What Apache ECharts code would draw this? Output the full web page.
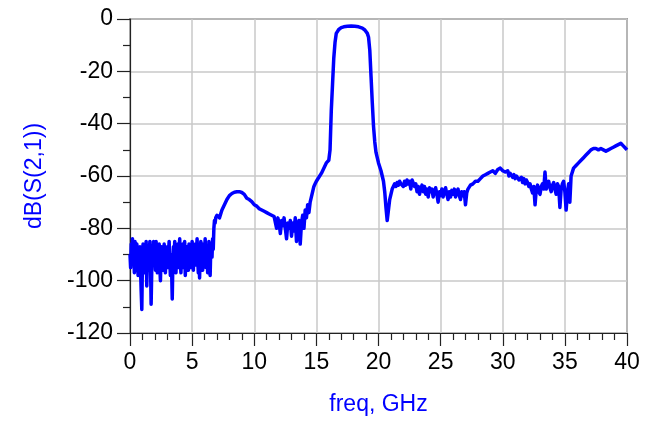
<!DOCTYPE html>
<html>
<head>
<meta charset="utf-8">
<script src="https://cdn.jsdelivr.net/npm/echarts@6/dist/echarts.min.js"></script>
<style>
html,body{margin:0;padding:0;background:#fff;}
#c{width:667px;height:427px;}
</style>
</head>
<body>
<div id="c"></div>
<script>
// Tick labels
const xTicks = [0, 5, 10, 15, 20, 25, 30, 35, 40];
const yTicks = [-120, -100, -80, -60, -40, -20, 0];

// freq (GHz)
const freqGHz = [
0.00,0.05,0.10,0.15,0.20,0.25,0.30,0.35,0.40,0.45,0.50,0.55,0.60,0.65,0.70,0.75,0.80,0.85,0.90,0.95,
1.00,1.05,1.10,1.15,1.20,1.25,1.30,1.35,1.40,1.45,1.50,1.55,1.60,1.65,1.70,1.75,1.80,1.85,1.90,1.95,
2.00,2.05,2.10,2.15,2.20,2.25,2.30,2.35,2.40,2.45,2.50,2.55,2.60,2.65,2.70,2.75,2.80,2.85,2.90,2.95,
3.00,3.05,3.10,3.15,3.20,3.25,3.30,3.35,3.40,3.45,3.50,3.55,3.60,3.65,3.70,3.75,3.80,3.85,3.90,3.95,
4.00,4.05,4.10,4.15,4.20,4.25,4.30,4.35,4.40,4.45,4.50,4.55,4.60,4.65,4.70,4.75,4.80,4.85,4.90,4.95,
5.00,5.05,5.10,5.15,5.20,5.25,5.30,5.35,5.40,5.45,5.50,5.55,5.60,5.65,5.70,5.75,5.80,5.85,5.90,5.95,
6.00,6.05,6.10,6.15,6.20,6.25,6.30,6.35,6.40,6.45,6.50,6.55,6.60,6.65,6.70,6.75,6.80,6.85,6.90,6.95,7.00,
7.2,7.4,7.6,7.8,8.0,8.2,8.4,8.6,8.8,9.0,9.2,9.4,9.6,9.8,
10.0,10.2,10.4,10.6,10.8,11.0,11.2,11.4,11.6,
11.8,11.9,12.0,12.1,12.2,12.3,12.4,12.5,12.6,12.7,12.8,12.9,
13.0,13.1,13.2,13.3,13.4,13.5,13.6,13.7,13.8,13.9,
14.0,14.1,14.2,14.3,14.4,14.5,14.6,14.7,14.8,14.9,
15.0,15.2,15.4,15.6,15.8,16.0,16.1,16.2,16.3,16.4,16.5,16.6,16.8,
17.0,17.2,17.5,17.8,18.1,18.4,18.7,18.9,19.1,19.2,19.3,19.4,19.5,19.6,19.7,19.8,
20.0,20.2,20.4,20.5,20.6,20.7,20.8,20.9,
21.0,21.1,21.2,21.3,21.4,21.5,21.6,21.7,21.8,21.9,
22.0,22.1,22.2,22.3,22.4,22.5,22.6,22.7,22.8,22.9,
23.0,23.1,23.2,23.3,23.4,23.5,23.6,23.7,23.8,23.9,
24.0,24.1,24.2,24.3,24.4,24.5,24.6,24.7,24.8,24.9,
25.0,25.1,25.2,25.3,25.4,25.5,25.6,25.7,25.8,25.9,
26.0,26.1,26.2,26.3,26.4,26.5,26.6,26.7,26.8,26.9,
27.0,27.1,27.2,27.3,27.4,
27.6,27.8,28.0,28.2,28.4,28.6,28.8,29.0,29.2,29.4,29.6,29.8,
30.0,30.1,30.2,30.3,30.4,30.5,30.6,30.7,30.8,30.9,
31.0,31.1,31.2,31.3,31.4,31.5,31.6,31.7,31.8,31.9,
32.0,32.1,32.2,32.3,32.4,32.5,32.6,32.7,32.8,32.9,
33.0,33.1,33.2,33.3,33.4,33.5,33.6,33.7,33.8,33.9,
34.0,34.1,34.2,34.3,34.4,34.5,34.6,34.7,34.8,34.9,
35.0,35.1,35.2,35.3,35.4,35.5,
35.7,35.9,36.1,36.3,36.5,36.7,36.9,37.1,37.3,37.5,37.7,37.9,
38.1,38.3,38.5,38.7,38.9,39.1,39.3,39.5,39.7,39.9,40.0
];

// dB(S(2,1))
const s21dB = [
-90,-95,-86,-93,-84,-90,-87,-97,-85,-92,-96,-86,-90,-98,-88,-94,-87,-96,-104,-111,
-93,-86,-91,-97,-88,-94,-85,-102,-91,-87,-96,-89,-85,-93,-109,-96,-88,-92,-85,-94,
-89,-96,-85,-91,-97,-88,-93,-86,-95,-100,-90,-87,-94,-89,-96,-86,-92,-97,-88,-93,
-87,-95,-89,-85,-92,-98,-90,-96,-107,-93,-87,-91,-85,-94,-97,-88,-92,-86,-95,-89,
-84,-93,-97,-88,-91,-86,-95,-89,-85,-98,-92,-87,-94,-88,-96,-86,-91,-95,-87,-93,
-85,-90,-96,-88,-93,-86,-94,-89,-84,-92,-97,-88,-99,-90,-85,-93,-88,-96,-86,-92,
-89,-84,-95,-90,-87,-97,-92,-85,-94,-98,-88,-86,-91,-84,-88,-80,-77,-78,-76,-76,-75,
-76,-73,-71,-69,-67.5,-66.7,-66.2,-66,-66,-66.3,-67,-68.5,-69,-69.8,
-71,-71.5,-72.5,-73,-73.5,-74,-74.5,-75,-75.5,
-80,-76,-78,-82,-77,-79,-76,-80,-84,-78,-80,-77,
-83,-78,-81,-76,-85,-79,-77,-86,-78,-75,
-80,-73,-76,-71,-74,-70,-68,-66,-64,-63,
-62,-60.5,-59,-57,-55,-54,-50,-35,-25,-15,-9,-5.5,-4,
-3.3,-3,-2.8,-2.7,-2.8,-3,-3.5,-4.2,-5.5,-7,-12,-22,-32,-41,-47,-51,
-55,-58,-62,-66,-72,-77,-73,-69,
-67,-65,-64.5,-63,-64,-62.5,-63.5,-62,-63,-62.5,
-64,-62,-63.5,-61.5,-63,-62,-65,-61.5,-62,-64,
-63,-66,-64,-67,-65,-63.5,-66,-64,-67,-65,
-68,-64.5,-66,-65,-68,-66,-64.5,-67,-70,-66,
-67.5,-65,-68,-66,-64.5,-67,-69,-66,-68,-65.5,
-67,-65,-68,-66,-65,-67.5,-69,-66,-67.5,-66,
-71,-66.5,-65,-64.5,-63.5,
-63,-62,-62,-61,-60,-59.5,-59,-58.5,-58,-59,-57.5,-57,
-58,-57.5,-58.5,-59,-58,-60,-59,-58.5,-60.5,-59.5,
-61,-60,-59.5,-61.5,-62,-60.5,-62.5,-61,-63,-61.5,
-62.5,-64,-63,-65,-66.5,-64,-71,-65,-63.5,-66,
-67,-64,-63,-65,-58.5,-65,-63,-62,-64.5,-66,
-63.5,-62.5,-65,-67,-63,-64,-72,-65,-63,-62,
-66,-73,-67,-63,-70,-60,
-57,-56,-55,-54,-53,-52,-51,-50,-49.5,-49.5,-50,-49.5,
-50,-50.5,-50,-49.5,-49,-48.5,-48,-47.5,-48.5,-49.5,-50
];

const chart = echarts.init(document.getElementById('c'), null, {renderer: 'canvas'});
const font = 'Liberation Sans, Arial, sans-serif';
chart.setOption({
  animation: false,
  backgroundColor: '#ffffff',
  grid: {left: 130, right: 40, top: 19, bottom: 94, show: true, borderColor: '#555555', borderWidth: 1.5, backgroundColor: 'transparent'},
  xAxis: {
    type: 'value', min: xTicks[0], max: xTicks[xTicks.length - 1], interval: 5,
    name: 'freq, GHz', nameLocation: 'middle', nameGap: 60,
    nameTextStyle: {color: '#0000ff', fontSize: 23, fontFamily: font},
    axisLine: {show: true, onZero: false, lineStyle: {color: '#222', width: 1.2}},
    axisTick: {show: true, inside: false, length: 13, lineStyle: {color: '#222', width: 1.2}},
    minorTick: {show: true, splitNumber: 5, length: 7, lineStyle: {color: '#222', width: 1.2}},
    axisLabel: {color: '#000', fontSize: 23, fontFamily: font, margin: 18},
    splitLine: {show: true, lineStyle: {color: '#c8c8c8', width: 1.5}}
  },
  yAxis: {
    type: 'value', min: yTicks[0], max: yTicks[yTicks.length - 1], interval: 20,
    name: 'dB(S(2,1))', nameLocation: 'middle', nameGap: 84, nameRotate: 90,
    nameTextStyle: {color: '#0000ff', fontSize: 23, fontFamily: font},
    axisLine: {show: true, onZero: false, lineStyle: {color: '#222', width: 1.2}},
    axisTick: {show: true, inside: false, length: 13, lineStyle: {color: '#222', width: 1.2}},
    minorTick: {show: true, splitNumber: 2, length: 7, lineStyle: {color: '#222', width: 1.2}},
    axisLabel: {color: '#000', fontSize: 23, fontFamily: font, margin: 17},
    splitLine: {show: true, lineStyle: {color: '#c8c8c8', width: 1.5}}
  },
  series: [{
    type: 'line',
    data: freqGHz.map((f, i) => [f, s21dB[i]]),
    showSymbol: false,
    symbol: 'none',
    lineStyle: {color: '#0000ff', width: 3.5, join: 'round'},
    clip: true
  }]
});
</script>
</body>
</html>
